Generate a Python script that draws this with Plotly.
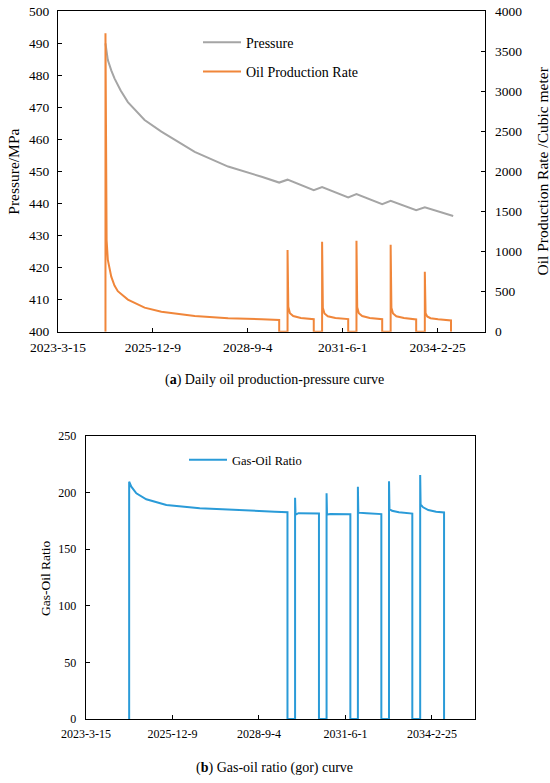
import pandas as pd
import plotly.graph_objects as go

# x values are Excel day serials (45000 = 2023-03-15)
TICK_DAYS = [45000, 46000, 47000, 48000, 49000]
TICK_LABELS = ["2023-3-15", "2025-12-9", "2028-9-4", "2031-6-1", "2034-2-25"]
X_RANGE_DAYS = [45000, 49500]

PRESSURE_DAYS = [45500, 45525, 45561, 45595, 45660, 45736, 45912, 46089, 46440, 46792,
                 47145, 47330, 47418, 47694, 47782, 48057, 48144, 48415, 48504,
                 48773, 48864, 49163]
PRESSURE = [489.9, 484.7, 481.5, 479.0, 475.2, 471.6, 466.0, 462.4, 456.1, 451.5,
            448.3, 446.5, 447.4, 444.1, 445.1, 441.9, 442.9, 439.8, 440.8,
            437.9, 438.8, 436.1]

OIL_DAYS = [45500, 45500, 45512, 45525, 45561, 45595, 45630, 45736, 45912, 46089, 46440,
            46792, 47145, 47330, 47330,
            47418, 47418, 47426, 47443, 47478, 47558, 47638, 47694, 47694,
            47782, 47782, 47790, 47807, 47842, 47922, 48002, 48057, 48057,
            48144, 48144, 48152, 48169, 48204, 48284, 48364, 48415, 48415,
            48504, 48504, 48512, 48529, 48564, 48644, 48724, 48773, 48773,
            48864, 48864, 48872, 48889, 48924, 49004, 49084, 49140, 49140]
OIL_RATE = [0, 3722, 1144, 895, 687, 575, 505, 400, 300, 250, 197,
            168, 155, 147, 0,
            0, 1020, 310, 230, 195, 172, 162, 156, 0,
            0, 1123, 300, 228, 193, 172, 162, 157, 0,
            0, 1135, 305, 230, 195, 172, 161, 156, 0,
            0, 1085, 300, 228, 192, 170, 160, 152, 0,
            0, 749, 232, 190, 168, 155, 145, 140, 0]

GOR_DAYS = [45500, 45500, 45525, 45583, 45698, 45930, 46316, 46700, 47185, 47330,
            47330,
            47418, 47418, 47423, 47458, 47694, 47694,
            47782, 47782, 47787, 47826, 48057, 48057,
            48144, 48144, 48149, 48247, 48415, 48415,
            48504, 48504, 48509, 48538, 48618, 48773, 48773,
            48864, 48864, 48869, 48898, 48958, 49048, 49140, 49140]
GOR = [0, 209.6, 205.2, 199.4, 194.1, 189.0, 186.1, 184.5, 183.1, 182.6,
       0,
       0, 195.5, 180.5, 181.8, 181.6, 0,
       0, 199.4, 180.6, 181.0, 180.8, 0,
       0, 205.2, 182.3, 181.8, 181.0, 0,
       0, 210.0, 185.5, 184.0, 182.6, 181.5, 0,
       0, 215.5, 189.5, 187.0, 184.6, 183.0, 182.5, 0]

GRAY = "#A5A5A5"
ORANGE = "#F0863A"
BLUE = "#2A9BD8"
FONT = "Liberation Serif"

W, H = 550, 783


def fx(px):
    return px / W


def fy(py):
    return 1 - py / H


def serial_to_date(days):
    return pd.to_datetime(pd.Series(days), unit="D", origin="1899-12-30")


tick_dates = serial_to_date(TICK_DAYS)
x_range = serial_to_date(X_RANGE_DAYS)

fig = go.Figure()
fig.add_trace(go.Scatter(
    x=serial_to_date(PRESSURE_DAYS), y=PRESSURE, name="Pressure", mode="lines",
    line={"color": GRAY, "width": 2}, xaxis="x", yaxis="y",
    legend="legend", legendgroup="p",
))
fig.add_trace(go.Scatter(
    x=serial_to_date(OIL_DAYS), y=OIL_RATE, name="Oil Production Rate", mode="lines",
    line={"color": ORANGE, "width": 2}, xaxis="x", yaxis="y2",
    legend="legend", legendgroup="o",
))
fig.add_trace(go.Scatter(
    x=serial_to_date(GOR_DAYS), y=GOR, name="Gas-Oil Ratio", mode="lines",
    line={"color": BLUE, "width": 2}, xaxis="x2", yaxis="y3",
    legend="legend2",
))

axis_common = {
    "showline": True, "linecolor": "black", "linewidth": 1.3,
    "showgrid": False, "zeroline": False, "automargin": False,
    "ticks": "inside", "ticklen": 4, "tickcolor": "black", "tickwidth": 1.3,
}


def title_note(text, x, y, size):
    return {"text": text, "x": fx(x), "y": fy(y), "xref": "paper", "yref": "paper",
            "xanchor": "center", "yanchor": "middle", "textangle": -90,
            "showarrow": False, "font": {"size": size}}


def caption(text, x, y):
    return {"text": text, "x": fx(x), "y": fy(y), "xref": "paper", "yref": "paper",
            "xanchor": "center", "yanchor": "middle", "showarrow": False,
            "font": {"size": 14}}


fig.update_layout(
    width=W, height=H,
    margin={"l": 0, "r": 0, "t": 0, "b": 0, "autoexpand": False},
    paper_bgcolor="white", plot_bgcolor="white",
    font={"family": FONT, "color": "black"},
    showlegend=True,
    xaxis={
        **axis_common, "domain": [fx(58), fx(485.2)], "anchor": "y", "type": "date",
        "range": list(x_range), "tickvals": list(tick_dates), "ticktext": TICK_LABELS,
        "mirror": True, "tickfont": {"size": 13.5}, "ticklabelstandoff": 3,
        "layer": "below traces",
    },
    yaxis={
        **axis_common, "domain": [fy(331.7), fy(11)], "anchor": "x",
        "range": [400, 500], "dtick": 10, "tickfont": {"size": 13.5},
        "ticklabelstandoff": 5,
    },
    yaxis2={
        **axis_common, "overlaying": "y", "side": "right", "anchor": "x",
        "range": [0, 4000], "dtick": 500, "tickfont": {"size": 13.5},
        "ticklabelstandoff": 6,
    },
    xaxis2={
        **axis_common, "domain": [fx(85.9), fx(475.2)], "anchor": "y3", "type": "date",
        "range": list(x_range), "tickvals": list(tick_dates), "ticktext": TICK_LABELS,
        "mirror": True, "tickfont": {"size": 12}, "ticklabelstandoff": 3,
    },
    yaxis3={
        **axis_common, "domain": [fy(719), fy(436)], "anchor": "x2",
        "range": [0, 250], "dtick": 50, "mirror": True, "tickfont": {"size": 12},
        "ticklabelstandoff": 6,
    },
    legend={
        "x": fx(198), "y": fy(26.7), "xanchor": "left", "yanchor": "top",
        "bgcolor": "rgba(0,0,0,0)", "font": {"size": 14}, "tracegroupgap": 8,
        "traceorder": "grouped", "itemwidth": 38,
    },
    legend2={
        "x": fx(184), "y": fy(445), "xanchor": "left", "yanchor": "top",
        "bgcolor": "rgba(0,0,0,0)", "font": {"size": 12.5}, "itemwidth": 38,
    },
    annotations=[
        title_note("Pressure/MPa", 14, 171.7, 15.5),
        title_note("Oil Production Rate /Cubic meter", 541.5, 171, 15.5),
        title_note("Gas-Oil Ratio", 45, 578, 13.5),
        caption("(<b>a</b>) Daily oil production-pressure curve", 274, 380),
        caption("(<b>b</b>) Gas-oil ratio (gor) curve", 274, 768),
    ],
)

# the default page body has an 8px margin; drop it so the 550x783 figure fills the window
fig.write_html(
    "out.html",
    config={"displayModeBar": False},
    post_script="document.body.style.margin = '0px';",
)
